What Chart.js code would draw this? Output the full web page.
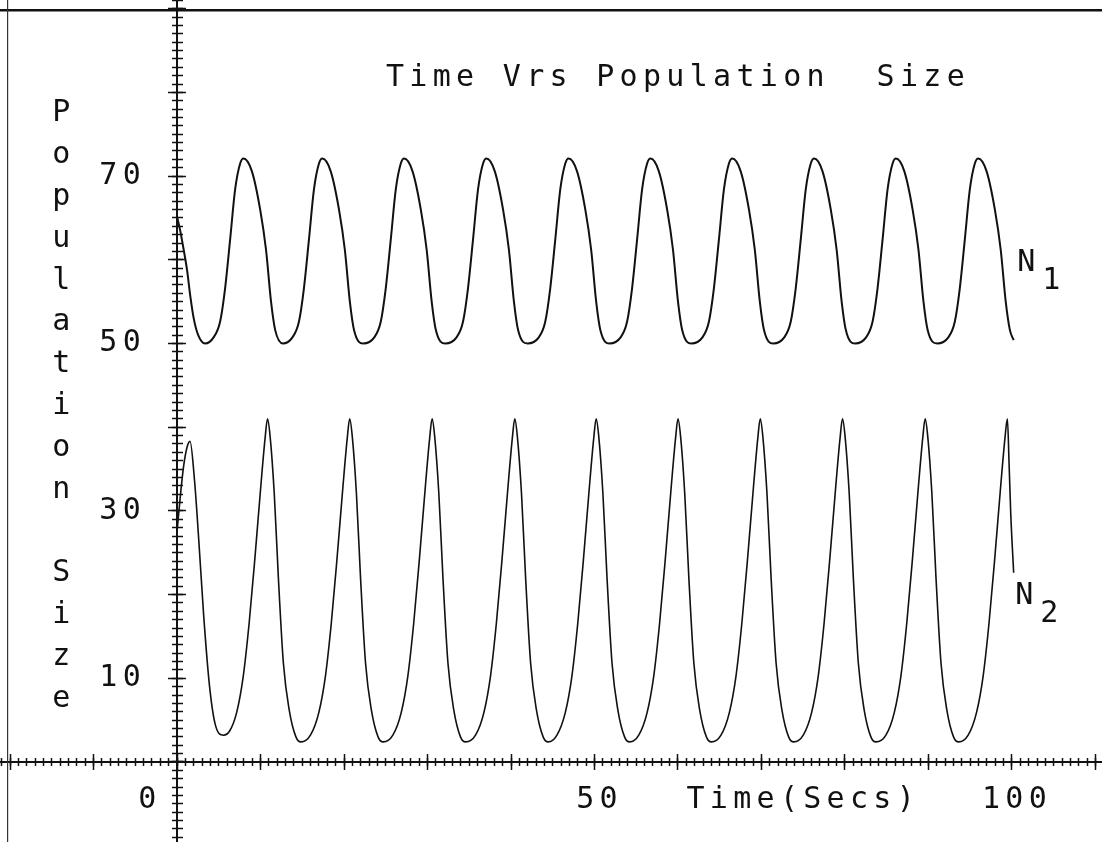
<!DOCTYPE html>
<html>
<head>
<meta charset="utf-8">
<title>Time Vrs Population Size</title>
<script src="https://cdn.jsdelivr.net/npm/chart.js@4.4.1/dist/chart.umd.min.js"></script>
<style>
  html, body { margin: 0; padding: 0; background: #fff; }
  #wrap { width: 1102px; height: 842px; }
</style>
</head>
<body>
<div id="wrap"><canvas id="chart" width="1102" height="842"></canvas></div>
<script>
// Time Vrs Population Size - plotter output, two coupled populations

// N1 (upper curve): time (secs) and population size
const timeN1 = [
  0, 0.4, 0.8, 1.2, 1.6, 2.0, 2.5, 3.36,
  4.36, 5.16, 5.76, 6.36, 6.96, 7.56, 7.96,
  8.96, 9.96, 10.66, 11.26, 11.76, 12.68, 13.8, 14.6, 15.2, 15.8, 16.4, 17.0, 17.4,
  18.4, 19.4, 20.1, 20.7, 21.2, 22.3, 23.6, 24.4, 25.0, 25.6, 26.2, 26.8, 27.2,
  28.2, 29.2, 29.9, 30.5, 31.0, 32.12, 33.45, 34.25, 34.85, 35.45, 36.05, 36.65, 37.05,
  38.05, 39.05, 39.75, 40.35, 40.85, 41.98, 43.3, 44.1, 44.7, 45.3, 45.9, 46.5, 46.9,
  47.9, 48.9, 49.6, 50.2, 50.7, 51.8, 53.1, 53.9, 54.5, 55.1, 55.7, 56.3, 56.7,
  57.7, 58.7, 59.4, 60.0, 60.5, 61.6, 62.9, 63.7, 64.3, 64.9, 65.5, 66.1, 66.5,
  67.5, 68.5, 69.2, 69.8, 70.3, 71.4, 72.7, 73.5, 74.1, 74.7, 75.3, 75.9, 76.3,
  77.3, 78.3, 79.0, 79.6, 80.1, 81.2, 82.5, 83.3, 83.9, 84.5, 85.1, 85.7, 86.1,
  87.1, 88.1, 88.8, 89.4, 89.9, 91.03, 92.35, 93.15, 93.75, 94.35, 94.95, 95.55, 95.95,
  96.95, 97.95, 98.65, 99.25, 99.75, 100.2
];
const popN1 = [
  65.2, 63.4, 61.2, 58.8, 55.6, 53.0, 51.1, 50.0,
  50.7, 52.6, 56.6, 62.4, 68.4, 71.5, 72.1,
  70.6, 66.0, 61.2, 55.0, 51.6, 50.0, 50.7, 52.6, 56.6, 62.4, 68.4, 71.5, 72.1,
  70.6, 66.0, 61.2, 55.0, 51.6, 50.0, 50.7, 52.6, 56.6, 62.4, 68.4, 71.5, 72.1,
  70.6, 66.0, 61.2, 55.0, 51.6, 50.0, 50.7, 52.6, 56.6, 62.4, 68.4, 71.5, 72.1,
  70.6, 66.0, 61.2, 55.0, 51.6, 50.0, 50.7, 52.6, 56.6, 62.4, 68.4, 71.5, 72.1,
  70.6, 66.0, 61.2, 55.0, 51.6, 50.0, 50.7, 52.6, 56.6, 62.4, 68.4, 71.5, 72.1,
  70.6, 66.0, 61.2, 55.0, 51.6, 50.0, 50.7, 52.6, 56.6, 62.4, 68.4, 71.5, 72.1,
  70.6, 66.0, 61.2, 55.0, 51.6, 50.0, 50.7, 52.6, 56.6, 62.4, 68.4, 71.5, 72.1,
  70.6, 66.0, 61.2, 55.0, 51.6, 50.0, 50.7, 52.6, 56.6, 62.4, 68.4, 71.5, 72.1,
  70.6, 66.0, 61.2, 55.0, 51.6, 50.0, 50.7, 52.6, 56.6, 62.4, 68.4, 71.5, 72.1,
  70.6, 66.0, 61.2, 55.0, 51.6, 50.4
];

// N2 (lower curve)
const timeN2 = [
  0, 0.4, 0.8, 1.2, 1.56, 2.1, 2.6, 3.2, 3.9, 4.6, 5.56,
  6.3, 7.14, 7.94, 8.64, 9.34, 10.04, 10.54, 10.84,
  11.14, 11.64, 12.14, 12.74, 13.44, 14.24, 14.84, 15.98, 16.98, 17.78, 18.48, 19.18, 19.88, 20.38, 20.68,
  20.98, 21.48, 21.98, 22.58, 23.28, 24.08, 24.68, 25.85, 26.85, 27.65, 28.35, 29.05, 29.75, 30.25, 30.55,
  30.85, 31.35, 31.85, 32.45, 33.15, 33.95, 34.55, 35.75, 36.75, 37.55, 38.25, 38.95, 39.65, 40.15, 40.45,
  40.75, 41.25, 41.75, 42.35, 43.05, 43.85, 44.45, 45.5, 46.5, 47.3, 48.0, 48.7, 49.4, 49.9, 50.2,
  50.5, 51.0, 51.5, 52.1, 52.8, 53.6, 54.2, 55.3, 56.3, 57.1, 57.8, 58.5, 59.2, 59.7, 60.0,
  60.3, 60.8, 61.3, 61.9, 62.6, 63.4, 64.0, 65.15, 66.15, 66.95, 67.65, 68.35, 69.05, 69.55, 69.85,
  70.15, 70.65, 71.15, 71.75, 72.45, 73.25, 73.85, 75.0, 76.0, 76.8, 77.5, 78.2, 78.9, 79.4, 79.7,
  80.0, 80.5, 81.0, 81.6, 82.3, 83.1, 83.7, 84.9, 85.9, 86.7, 87.4, 88.1, 88.8, 89.3, 89.6,
  89.9, 90.4, 90.9, 91.5, 92.2, 93.0, 93.6, 94.75, 95.75, 96.55, 97.25, 97.95, 98.65, 99.15, 99.45,
  99.65, 99.85, 100.2
];
const popN2 = [
  27.5, 31.8, 35.4, 37.6, 38.3, 33.6, 26.6, 17.4, 9.0, 4.4, 3.2,
  3.7, 5.9, 10.3, 16.6, 24.5, 33.0, 38.6, 41.0,
  39.0, 32.2, 22.0, 11.8, 6.2, 3.0, 2.4, 3.2, 5.9, 10.3, 16.6, 24.5, 33.0, 38.6, 41.0,
  39.0, 32.2, 22.0, 11.8, 6.2, 3.0, 2.4, 3.2, 5.9, 10.3, 16.6, 24.5, 33.0, 38.6, 41.0,
  39.0, 32.2, 22.0, 11.8, 6.2, 3.0, 2.4, 3.2, 5.9, 10.3, 16.6, 24.5, 33.0, 38.6, 41.0,
  39.0, 32.2, 22.0, 11.8, 6.2, 3.0, 2.4, 3.2, 5.9, 10.3, 16.6, 24.5, 33.0, 38.6, 41.0,
  39.0, 32.2, 22.0, 11.8, 6.2, 3.0, 2.4, 3.2, 5.9, 10.3, 16.6, 24.5, 33.0, 38.6, 41.0,
  39.0, 32.2, 22.0, 11.8, 6.2, 3.0, 2.4, 3.2, 5.9, 10.3, 16.6, 24.5, 33.0, 38.6, 41.0,
  39.0, 32.2, 22.0, 11.8, 6.2, 3.0, 2.4, 3.2, 5.9, 10.3, 16.6, 24.5, 33.0, 38.6, 41.0,
  39.0, 32.2, 22.0, 11.8, 6.2, 3.0, 2.4, 3.2, 5.9, 10.3, 16.6, 24.5, 33.0, 38.6, 41.0,
  39.0, 32.2, 22.0, 11.8, 6.2, 3.0, 2.4, 3.2, 5.9, 10.3, 16.6, 24.5, 33.0, 38.6, 41.0,
  35.7, 29.7, 22.6
];

// tick labels and texts
const yTickValues = [10, 30, 50, 70];
const xTickValues = [0, 50, 100];
const chartTitle = 'Time Vrs Population  Size';
const xTitle = 'Time(Secs)';
const yTitle = 'Population Size';
const seriesNames = ['N1', 'N2'];

// axis ranges - axes cross at the origin, frame runs to the page edge
const X_MIN = -21.2, X_MAX = 110.78;
const Y_MIN = -9.56, Y_MAX = 91.04;

const INK = '#111';
const FONT = { family: '"DejaVu Sans Mono", "Liberation Mono", monospace', size: 30 };
const SPACING = '5.3px';

// centred axes must not push the chart area in
function noPad(scale) {
  scale.paddingLeft = scale.paddingRight = scale.paddingTop = scale.paddingBottom = 0;
}

function range(axis) {
  return axis === 'x' ? { min: X_MIN, max: X_MAX } : { min: Y_MIN, max: Y_MAX };
}

// "+" tick marks: a scale shifted half a tick off the axis, ticks drawn across it
function tickScale(axis, at, step, len) {
  const other = axis === 'x' ? 'y' : 'x';
  return Object.assign({
    type: 'linear', axis, display: true,
    position: { [other]: at },
    border: { display: false },
    grid: { display: true, drawOnChartArea: false, drawTicks: true, tickLength: len, tickWidth: 1.5, tickColor: INK },
    ticks: { display: false, stepSize: step, includeBounds: false },
    afterFit: noPad
  }, range(axis));
}

function labelScale(axis, at, values, ticks) {
  const other = axis === 'x' ? 'y' : 'x';
  return Object.assign({
    type: 'linear', axis, display: true,
    position: { [other]: at },
    border: { display: false },
    grid: { display: false, drawTicks: false },
    ticks: Object.assign({ font: FONT, color: INK, padding: 0, autoSkip: false, maxRotation: 0, callback: v => String(v) }, ticks),
    afterBuildTicks: s => { s.ticks = values.map(v => ({ value: v })); },
    afterFit: noPad
  }, range(axis));
}

function lineScale(axis, at, border) {
  const other = axis === 'x' ? 'y' : 'x';
  return Object.assign({
    type: 'linear', axis, display: true,
    position: { [other]: at },
    border: Object.assign({ display: true, color: INK, width: 2 }, border),
    grid: { display: false, drawTicks: false },
    ticks: { display: false },
    afterFit: noPad
  }, range(axis));
}

// free text: title, axis names, curve names
const plotText = {
  id: 'plotText',
  beforeDraw(chart) {
    chart.ctx.letterSpacing = SPACING;
  },
  afterDraw(chart) {
    const { ctx, scales: { x, y } } = chart;
    const put = (text, xv, yv, align) => {
      ctx.textAlign = align || 'center';
      ctx.fillText(text, x.getPixelForValue(xv), y.getPixelForValue(yv));
    };
    ctx.save();
    ctx.letterSpacing = SPACING;
    ctx.font = FONT.size + 'px ' + FONT.family;
    ctx.fillStyle = INK;
    ctx.textBaseline = 'middle';

    put(chartTitle, 60.0, 81.7);
    put(xTitle, 75.0, -4.54);
    // y title written one letter per row
    [...yTitle].forEach((ch, i) => put(ch, -13.54, 77.5 - 5 * i));

    const labelAt = [[100.62, 59.62], [100.38, 19.83]];
    seriesNames.forEach((name, i) => {
      const [lx, ly] = labelAt[i];
      put(name[0], lx, ly, 'left');
      put(name.slice(1), lx + 3.0, ly - 2.2, 'left');   // subscript
    });
    ctx.restore();
  }
};

const toPoints = (ts, vs) => ts.map((t, i) => ({ x: t, y: vs[i] }));

new Chart(document.getElementById('chart'), {
  type: 'line',
  data: {
    datasets: [
      { label: seriesNames[0], data: toPoints(timeN1, popN1), xAxisID: 'x', yAxisID: 'y',
        borderColor: INK, borderWidth: 2, pointRadius: 0, fill: false, cubicInterpolationMode: 'monotone' },
      { label: seriesNames[1], data: toPoints(timeN2, popN2), xAxisID: 'x', yAxisID: 'y',
        borderColor: INK, borderWidth: 1.6, pointRadius: 0, fill: false, cubicInterpolationMode: 'monotone' }
    ]
  },
  options: {
    responsive: false,
    animation: false,
    events: [],
    layout: { padding: 0, autoPadding: false },
    plugins: { legend: { display: false }, tooltip: { enabled: false } },
    scales: {
      x: lineScale('x', 0),
      y: lineScale('y', 0),
      xMinor: tickScale('x', 0.48, 1, 8),
      xMajor: tickScale('x', 0.96, 10, 16),
      yMinor: tickScale('y', 0.66, 1, 11),
      yMajor: tickScale('y', 1.08, 10, 18),
      yLabels: labelScale('y', -3.71, yTickValues),
      xLabels: labelScale('x', 0, xTickValues.filter(v => v !== 0), { padding: 20, labelOffset: 5 }),
      xZero: labelScale('x', 0, xTickValues.filter(v => v === 0), { padding: 20, labelOffset: -27 }),
      xFrame: lineScale('x', 89.84, { width: 2.5 }),
      yFrame: lineScale('y', -20.24, { width: 1.2, color: '#333', dash: [5, 4] })
    }
  },
  plugins: [plotText]
});
</script>
</body>
</html>
